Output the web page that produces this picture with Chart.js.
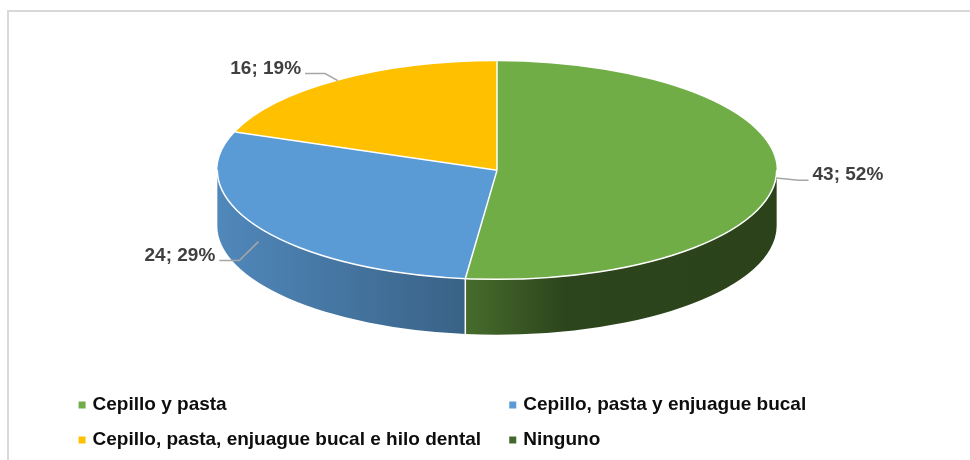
<!DOCTYPE html>
<html>
<head>
<meta charset="utf-8">
<script src="https://cdn.jsdelivr.net/npm/chart.js@4/dist/chart.umd.min.js"></script>
<style>
  html, body { margin: 0; padding: 0; background: #fff; }
  #wrap { position: relative; width: 970px; height: 460px; }
</style>
</head>
<body>
<div id="wrap"><canvas id="pieChart"></canvas></div>
<script>
const categories = [
    'Cepillo y pasta',
    'Cepillo, pasta y enjuague bucal',
    'Cepillo, pasta, enjuague bucal e hilo dental',
    'Ninguno'
];
const counts = [43, 24, 16, 0];
const sliceColors = ['#70AD47', '#5B9BD5', '#FFC000', '#43682B'];

// tilted pie: horizontal/vertical stretch of the flat radius, and wall height
const tilt = { sx: 1.77, sy: 0.69, depth: 0.35 };

function shade(hex, f) {
    const n = parseInt(hex.slice(1), 16);
    const r = Math.round(((n >> 16) & 255) * f);
    const g = Math.round(((n >> 8) & 255) * f);
    const b = Math.round((n & 255) * f);
    return `rgb(${r}, ${g}, ${b})`;
}

function pieGeometry(chart) {
    const arcs = chart.getDatasetMeta(0).data;
    const R = arcs[0].outerRadius;
    const depth = R * tilt.depth;
    return {
        arcs, R, depth,
        rx: R * tilt.sx,
        ry: R * tilt.sy,
        cx: arcs[0].x,
        cy: arcs[0].y - depth / 2
    };
}

const pie3d = {
    id: 'pie3d',
    beforeDraw(chart) {
        const ctx = chart.ctx;
        ctx.save();
        ctx.strokeStyle = '#d9d9d9';
        ctx.lineWidth = 2;
        ctx.strokeRect(8, 11, chart.width, chart.height);
        ctx.restore();
    },
    beforeDatasetsDraw(chart) {
        const g = pieGeometry(chart);
        const ctx = chart.ctx;

        // outer wall, only the half that faces the viewer
        g.arcs.forEach((arc, i) => {
            const a = Math.max(arc.startAngle, 0);
            const b = Math.min(arc.endAngle, Math.PI);
            if (b <= a) return;
            const c = sliceColors[i];
            const grad = ctx.createLinearGradient(g.cx - g.rx, 0, g.cx + g.rx, 0);
            grad.addColorStop(0, shade(c, 0.88));
            grad.addColorStop(0.43, shade(c, 0.64));
            grad.addColorStop(0.62, shade(c, 0.40));
            grad.addColorStop(1, shade(c, 0.38));
            ctx.beginPath();
            ctx.ellipse(g.cx, g.cy, g.rx, g.ry, 0, a, b);
            ctx.ellipse(g.cx, g.cy + g.depth, g.rx, g.ry, 0, b, a, true);
            ctx.closePath();
            ctx.fillStyle = grad;
            ctx.fill();
        });

        // squash the flat pie into the top face
        ctx.save();
        ctx.translate(g.cx, g.cy);
        ctx.scale(tilt.sx, tilt.sy);
        ctx.translate(-g.arcs[0].x, -g.arcs[0].y);
    },
    afterDatasetsDraw(chart) {
        const ctx = chart.ctx;
        ctx.restore();
        const g = pieGeometry(chart);
        const { cx, cy, rx, ry, depth } = g;

        // white slice edges
        ctx.save();
        ctx.strokeStyle = '#fff';
        ctx.lineWidth = 1.5;
        ctx.beginPath();
        ctx.ellipse(cx, cy, rx, ry, 0, 0, Math.PI);
        ctx.stroke();
        g.arcs.forEach(arc => {
            if (arc.endAngle - arc.startAngle <= 0) return;
            const t = arc.startAngle;
            const px = cx + rx * Math.cos(t), py = cy + ry * Math.sin(t);
            ctx.beginPath();
            ctx.moveTo(cx, cy);
            ctx.lineTo(px, py);
            if (Math.sin(t) > 0) ctx.lineTo(px, py + depth);
            ctx.stroke();
        });

        // data labels "n; p%" with leader lines
        const total = counts.reduce((s, v) => s + v, 0);
        ctx.font = 'bold 19px "Liberation Sans", Arial, sans-serif';
        ctx.textBaseline = 'middle';
        g.arcs.forEach((arc, i) => {
            if (!counts[i]) return;
            const m = (arc.startAngle + arc.endAngle) / 2;
            const cos = Math.cos(m), sin = Math.sin(m);
            const drop = sin > 0 ? depth * sin : 0;
            const ax = cx + rx * cos, ay = cy + ry * sin + drop * 0.5;
            const lx = cx + rx * 1.08 * cos, ly = cy + ry * 1.08 * sin + drop;
            const dir = cos >= 0 ? 1 : -1;
            const tail = dir > 0 ? 10 : 20;
            ctx.strokeStyle = '#a6a6a6';
            ctx.beginPath();
            ctx.moveTo(ax, ay);
            ctx.lineTo(lx, ly);
            ctx.lineTo(lx + dir * tail, ly);
            ctx.stroke();
            ctx.fillStyle = '#404040';
            ctx.textAlign = dir > 0 ? 'left' : 'right';
            const pct = Math.round(counts[i] / total * 100);
            ctx.fillText(`${counts[i]}; ${pct}%`, lx + dir * (tail + 4), ly - 5);
        });

        // legend, two columns
        ctx.font = 'bold 19px "Liberation Sans", Arial, sans-serif';
        ctx.textAlign = 'left';
        const top = chart.chartArea.bottom;
        categories.forEach((name, i) => {
            const col = i % 2, row = Math.floor(i / 2);
            const x = chart.width * (col ? 0.525 : 0.081);
            const y = top + 49 + row * 35;
            ctx.fillStyle = sliceColors[i];
            ctx.fillRect(x, y - 3.5, 7, 7);
            ctx.fillStyle = '#0d0d0d';
            ctx.fillText(name, x + 14, y);
        });
        ctx.restore();
    }
};

new Chart(document.getElementById('pieChart'), {
    type: 'pie',
    data: {
        labels: categories,
        datasets: [{
            data: counts,
            backgroundColor: sliceColors,
            borderWidth: 0,
            clip: false
        }]
    },
    options: {
        responsive: true,
        maintainAspectRatio: false,
        animation: false,
        events: [],
        layout: { padding: { top: 40, bottom: 104, left: 24, right: 0 } },
        plugins: {
            legend: { display: false },
            tooltip: { enabled: false }
        }
    },
    plugins: [pie3d]
});
</script>
</body>
</html>
